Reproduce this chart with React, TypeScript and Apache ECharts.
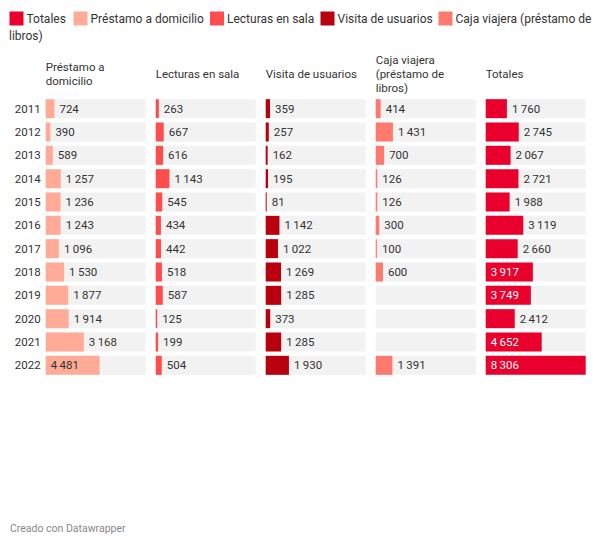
import React, { useEffect, useRef } from "react";
import * as echarts from "echarts";

const years = ["2011", "2012", "2013", "2014", "2015", "2016", "2017", "2018", "2019", "2020", "2021", "2022"];
const columnNames = ["Préstamo a\ndomicilio", "Lecturas en sala", "Visita de usuarios", "Caja viajera\n(préstamo de\nlibros)", "Totales"];
const legendNames = ["Totales", "Préstamo a domicilio", "Lecturas en sala", "Visita de usuarios", "Caja viajera (préstamo de"];
const prestamo = [724, 390, 589, 1257, 1236, 1243, 1096, 1530, 1877, 1914, 3168, 4481];
const lecturas = [263, 667, 616, 1143, 545, 434, 442, 518, 587, 125, 199, 504];
const visita = [359, 257, 162, 195, 81, 1142, 1022, 1269, 1285, 373, 1285, 1930];
const caja = [414, 1431, 700, 126, 126, 300, 100, 600, null, null, null, 1391];
const totales = [1760, 2745, 2067, 2721, 1988, 3119, 2660, 3917, 3749, 2412, 4652, 8306];

const colors = ["#ffab98", "#ff4d4d", "#b8000e", "#ff7a6e", "#e9002c"];
const insideColors = ["#333333", "#ffffff", "#ffffff", "#333333", "#ffffff"];
const legendColors = ["#e9002c", "#ffab98", "#ff4d4d", "#b8000e", "#ff7a6e"];

const fmt = (v: number) => {
  const s = String(Math.round(v));
  return s.replace(/\B(?=(\d{3})+(?!\d))/g, "\u2009");
};

export default function App() {
  const ref = useRef<HTMLDivElement>(null);
  useEffect(() => {
    document.body.style.margin = "0";
    const chart = echarts.init(ref.current!, null, { renderer: "svg" });
    const cols = [prestamo, lecturas, visita, caja, totales];
    const maxV = Math.max(...totales);
    const left0 = 45.7;
    const step = 110;
    const colW = 100;
    const top = 97;
    const height = 280;
    const font = "Roboto";
    const fs = 11.5;

    const grids: any[] = [];
    const xAxes: any[] = [];
    const yAxes: any[] = [];
    const series: any[] = [];
    const graphics: any[] = [];

    cols.forEach((vals, i) => {
      grids.push({ left: left0 + i * step, top, width: colW, height, containLabel: false });
      xAxes.push({ type: "value", gridIndex: i, min: 0, max: maxV, show: false });
      yAxes.push({
        type: "category",
        gridIndex: i,
        data: years,
        inverse: true,
        show: i === 0,
        axisLine: { show: false },
        axisTick: { show: false },
        splitLine: { show: false },
        axisLabel: { show: i === 0, margin: 5, color: "#333", fontSize: fs, fontFamily: font },
      });
      series.push({
        type: "bar",
        xAxisIndex: i,
        yAxisIndex: i,
        data: years.map(() => maxV),
        barWidth: 19,
        silent: true,
        itemStyle: { color: "#f2f2f2" },
        label: { show: false },
      });
      series.push({
        type: "bar",
        xAxisIndex: i,
        yAxisIndex: i,
        barGap: "-100%",
        barWidth: 19,
        itemStyle: { color: colors[i] },
        data: vals.map((v) => {
          if (v === null) return null;
          const inside = v / maxV > 0.42;
          return {
            value: v,
            label: inside
              ? { position: "insideLeft", distance: 5, color: insideColors[i] }
              : { position: "right", distance: 5, color: "#333" },
          };
        }),
        label: {
          show: true,
          fontSize: fs,
          fontFamily: font,
          formatter: (p: any) => fmt(p.value),
        },
      });
      graphics.push({
        type: "text",
        left: left0 + i * step,
        top: 74 - (columnNames[i].split("\n").length * 14) / 2,
        style: {
          text: columnNames[i],
          fill: "#333",
          font: `${fs}px ${font}`,
          lineHeight: 14,
        },
      });
    });

    // Legend
    const legX = [9.5, 73.5, 210, 320.5, 438.5];
    legendNames.forEach((n, i) => {
      graphics.push({
        type: "rect",
        z: 1,
        shape: { x: legX[i], y: 11.5, width: 14, height: 14 },
        style: { fill: legendColors[i] },
      });
    });
    legendNames.forEach((n, i) => {
      graphics.push({
        type: "text",
        z: 2,
        x: legX[i] + 17,
        y: 18.5,
        style: { text: n, fill: "#333", font: `12px ${font}`, textVerticalAlign: "middle" },
      });
    });
    graphics.push({
      type: "text",
      x: 9,
      y: 35.5,
      style: { text: "libros)", fill: "#333", font: `12px ${font}`, textVerticalAlign: "middle" },
    });
    graphics.push({
      type: "text",
      x: 10,
      y: 528,
      style: { text: "Creado con Datawrapper", fill: "#888", font: `10.5px ${font}`, textVerticalAlign: "middle" },
    });

    chart.setOption({
      animation: false,
      backgroundColor: "#ffffff",
      grid: grids,
      xAxis: xAxes,
      yAxis: yAxes,
      series,
      graphic: graphics,
    });
    return () => chart.dispose();
  }, []);
  return <div ref={ref} style={{ width: 600, height: 545 }} />;
}
